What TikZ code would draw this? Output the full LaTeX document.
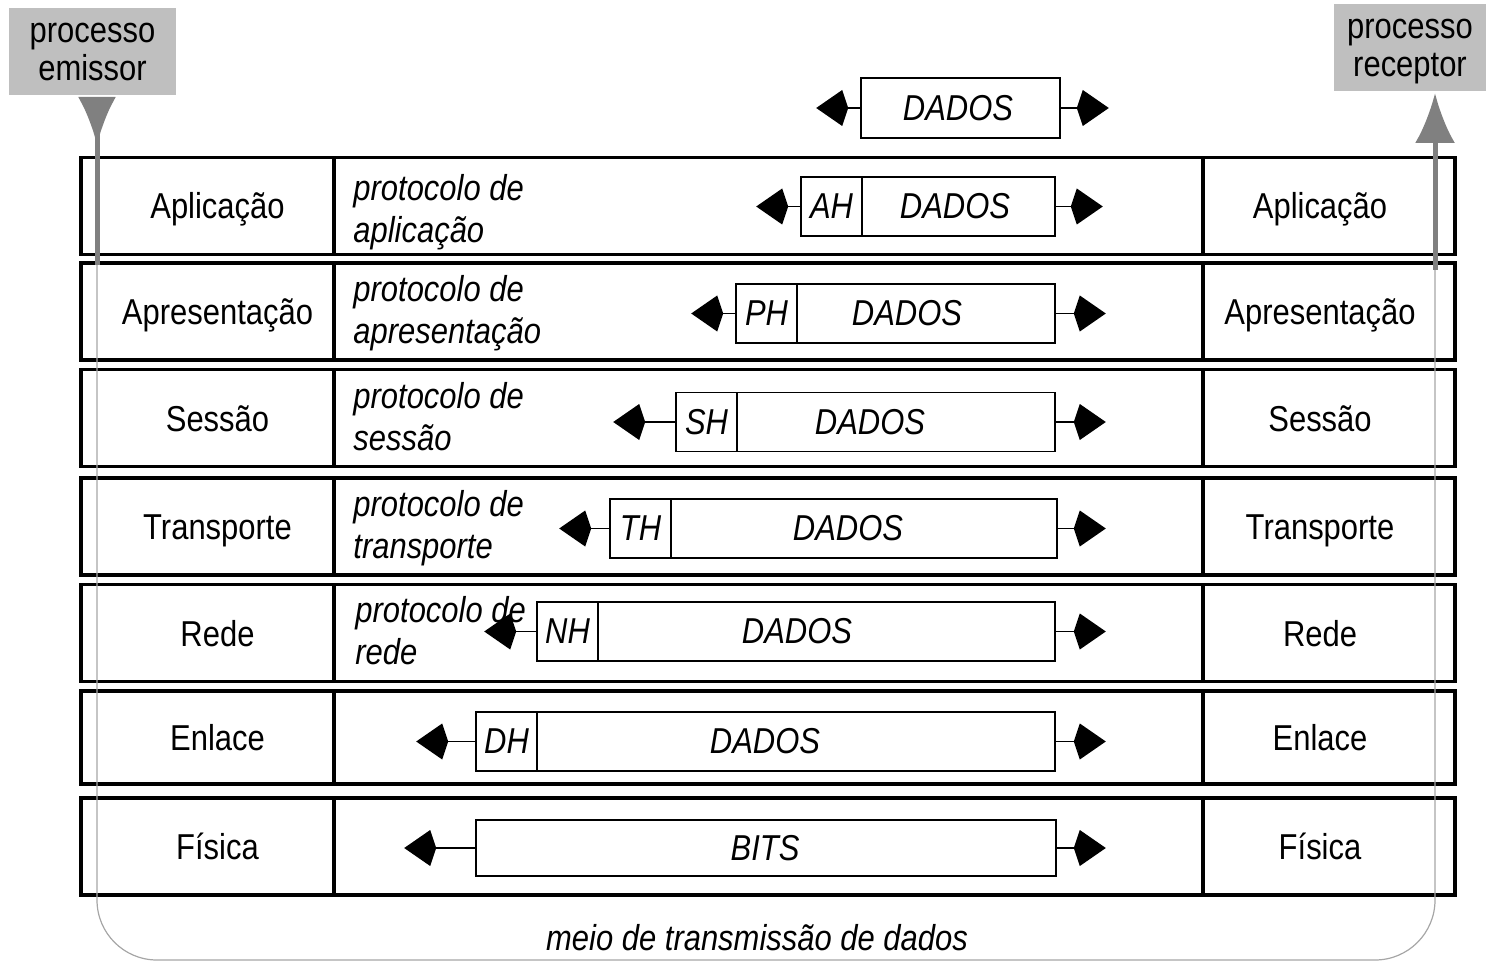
\documentclass[tikz,border=0pt]{standalone}
\usepackage{fontspec}
\setmainfont{Liberation Sans}[FakeStretch=0.86]
\usetikzlibrary{arrows.meta}

\begin{document}
\begin{tikzpicture}[x=0.5pt, y=-0.5pt, font=\fontsize{18}{21}\selectfont,
    cell/.style={draw, line width=1.8pt, minimum height=48.5pt, inner sep=0pt, text height=13pt, text depth=0pt},
    lcell/.style={cell, minimum width=126.5pt, execute at begin node=\hspace*{10pt}},
    mcell/.style={cell, minimum width=434.5pt},
    rcell/.style={cell, minimum width=126pt, execute at end node=\hspace*{9pt}},
    proto/.style={anchor=west, align=left, inner sep=0pt, font=\fontsize{18}{21}\selectfont\itshape},
    pkt/.style={draw, line width=0.8pt, minimum height=29.5pt, inner sep=0pt},
    hdr/.style={pkt, minimum width=30.5pt, font=\fontsize{18}{21}\selectfont\itshape},
    dtext/.style={inner sep=0pt, font=\fontsize{18}{21}\selectfont\itshape},
    pkarrow/.style={line width=0.8pt, -{Kite[length=16pt, width=18pt, inset=3pt]}},
    procbox/.style={fill=black!25, align=center, inner sep=0pt, minimum height=43.5pt, text depth=0pt, font=\fontsize{18}{19}\selectfont},
    procline/.style={draw=gray, line width=2.5pt}]
    \useasboundingbox (0,0) rectangle (1486,962);

    \node[procbox, minimum width=83.5pt] (emissor) at (92.5,51.5) {processo\\emissor};
    \node[procbox, minimum width=76pt] (receptor) at (1410,48) {processo\\receptor};

    \node[pkt, minimum width=99.5pt, minimum height=30pt] (d0) at (960.5,108) {};
    \node[dtext] (t0) at (958,108) {DADOS};
    \draw[pkarrow] (d0.west) -- ++(-44,0);
    \draw[pkarrow] (d0.east) -- ++(48,0);

    \node[lcell] (l1) at (207.5,206) {Aplicação};
    \node[mcell] (m1) at (768.5,206) {};
    \node[rcell] (r1) at (1329,206) {Aplicação};
    \node[lcell] (l2) at (207.5,311.5) {Apresentação};
    \node[mcell] (m2) at (768.5,311.5) {};
    \node[rcell] (r2) at (1329,311.5) {Apresentação};
    \node[lcell] (l3) at (207.5,418) {Sessão};
    \node[mcell] (m3) at (768.5,418) {};
    \node[rcell] (r3) at (1329,418) {Sessão};
    \node[lcell] (l4) at (207.5,526.5) {Transporte};
    \node[mcell] (m4) at (768.5,526.5) {};
    \node[rcell] (r4) at (1329,526.5) {Transporte};
    \node[lcell] (l5) at (207.5,633) {Rede};
    \node[mcell] (m5) at (768.5,633) {};
    \node[rcell] (r5) at (1329,633) {Rede};
    \node[lcell, minimum height=46.5pt] (l6) at (207.5,737.5) {Enlace};
    \node[mcell, minimum height=46.5pt] (m6) at (768.5,737.5) {};
    \node[rcell, minimum height=46.5pt] (r6) at (1329,737.5) {Enlace};
    \node[lcell] (l7) at (207.5,846.5) {Física};
    \node[mcell] (m7) at (768.5,846.5) {};
    \node[rcell] (r7) at (1329,846.5) {Física};

    \node[proto] (p1) at (353,212) {protocolo de\\aplicação};
    \node[proto] (p2) at (353,313) {protocolo de\\apresentação};
    \node[proto] (p3) at (353,417) {protocolo de\\sessão};
    \node[proto] (p4) at (353,528) {protocolo de\\transporte};
    \node[proto] (p5) at (355,631) {protocolo de\\rede};

    \node[hdr] (h1) at (831.5,206.5) {AH};
    \node[pkt, minimum width=96.5pt] (d1) at (958.5,206.5) {};
    \node[dtext] (t1) at (955,206.5) {DADOS};
    \draw[pkarrow] (h1.west) -- ++(-44,0);
    \draw[pkarrow] (d1.east) -- ++(47,0);

    \node[hdr] (h2) at (766.5,313.5) {PH};
    \node[pkt, minimum width=129pt] (d2) at (926,313.5) {};
    \node[dtext] (t2) at (907,313.5) {DADOS};
    \draw[pkarrow] (h2.west) -- ++(-44,0);
    \draw[pkarrow] (d2.east) -- ++(50,0);

    \node[hdr] (h3) at (706.5,422) {SH};
    \node[pkt, minimum width=159pt] (d3) at (896,422) {};
    \node[dtext] (t3) at (870,422) {DADOS};
    \draw[pkarrow] (h3.west) -- ++(-62,0);
    \draw[pkarrow] (d3.east) -- ++(50,0);

    \node[hdr] (h4) at (640.5,528.5) {TH};
    \node[pkt, minimum width=193pt] (d4) at (864,528.5) {};
    \node[dtext] (t4) at (848,528.5) {DADOS};
    \draw[pkarrow] (h4.west) -- ++(-50,0);
    \draw[pkarrow] (d4.east) -- ++(48,0);

    \node[hdr] (h5) at (567.5,631.5) {NH};
    \node[pkt, minimum width=228.5pt] (d5) at (826.5,631.5) {};
    \node[dtext] (t5) at (797,631.5) {DADOS};
    \draw[pkarrow] (h5.west) -- ++(-52,0);
    \draw[pkarrow] (d5.east) -- ++(50,0);

    \node[hdr] (h6) at (506.5,741.5) {DH};
    \node[pkt, minimum width=259pt] (d6) at (796,741.5) {};
    \node[dtext] (t6) at (765,741.5) {DADOS};
    \draw[pkarrow] (h6.west) -- ++(-59,0);
    \draw[pkarrow] (d6.east) -- ++(50,0);

    \node[pkt, minimum width=290pt, minimum height=28pt] (d7) at (766,848) {};
    \node[dtext] (t7) at (765,848) {BITS};
    \draw[pkarrow] (d7.west) -- ++(-71,0);
    \draw[pkarrow] (d7.east) -- ++(49,0);

    \node[dtext] (meio) at (757,938) {meio de transmissão de dados};

    \coordinate (etop) at (97,97);
    \coordinate (ebot) at (97,265);
    \coordinate (rtop) at (1435,93);
    \coordinate (rbot) at (1435,270);
    \draw[gray!70, line width=0.6pt, rounded corners=30pt] (ebot) -- (97,960) -- (1435,960) -- (rbot);
    \draw[procline, {Latex[reversed, length=24pt, width=19pt]}-] (etop) -- (ebot);
    \draw[procline, -{Latex[length=25pt, width=20pt]}] (rbot) -- (rtop);
\end{tikzpicture}
\end{document}
